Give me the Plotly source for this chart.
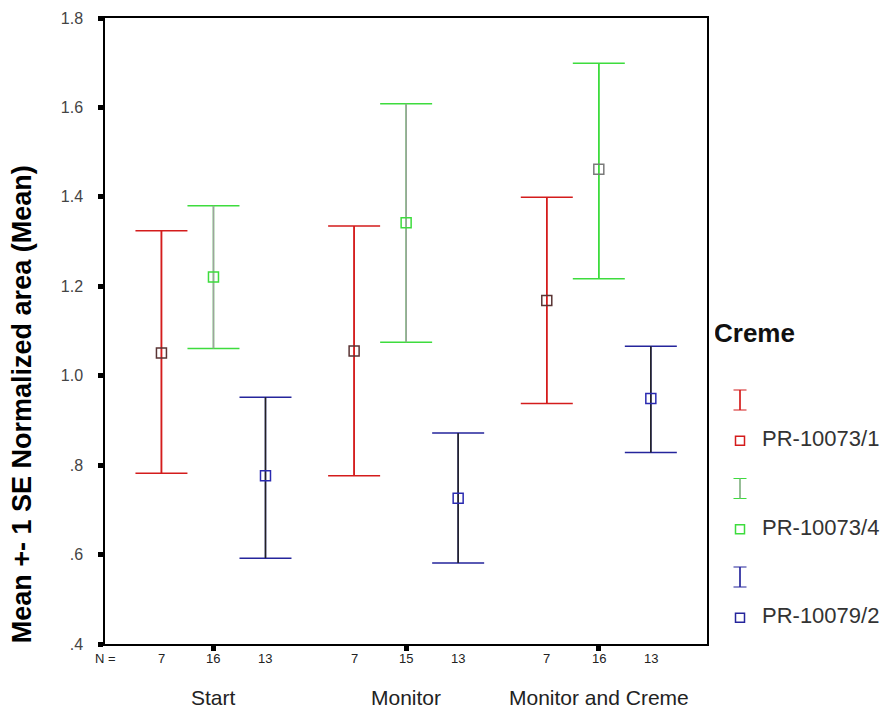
import plotly.graph_objects as go

# ---------------- data ----------------
categories = ["Start", "Monitor", "Monitor and Creme"]
series_names = ["PR-10073/1", "PR-10073/4", "PR-10079/2"]

n_10073_1 = [7, 7, 7]
n_10073_4 = [16, 15, 16]
n_10079_2 = [13, 13, 13]

mean_10073_1 = [1.051, 1.055, 1.168]
upper_10073_1 = [1.324, 1.335, 1.399]
lower_10073_1 = [0.782, 0.776, 0.938]

mean_10073_4 = [1.221, 1.342, 1.462]
upper_10073_4 = [1.380, 1.608, 1.699]
lower_10073_4 = [1.061, 1.075, 1.217]

mean_10079_2 = [0.776, 0.726, 0.949]
upper_10079_2 = [0.952, 0.872, 1.066]
lower_10079_2 = [0.592, 0.581, 0.828]

y_tick_vals = [0.4, 0.6, 0.8, 1.0, 1.2, 1.4, 1.6, 1.8]
y_tick_text = [".4", ".6", ".8", "1.0", "1.2", "1.4", "1.6", "1.8"]

# ---------------- styles ----------------
FONT = "Liberation Sans, Arial, sans-serif"
RED, GREEN, BLUE = "#d41c1c", "#3ddc3d", "#25259c"
GREY, DARK = "#a0a0a0", "#222222"

series = [
    dict(name=series_names[0], n=n_10073_1, mean=mean_10073_1, up=upper_10073_1, lo=lower_10073_1,
         cap=RED, stems=[RED, RED, RED], marks=["#5a3434"] * 3, legend_mark=RED, legend_stem=RED),
    dict(name=series_names[1], n=n_10073_4, mean=mean_10073_4, up=upper_10073_4, lo=lower_10073_4,
         cap=GREEN, stems=[GREY, GREY, GREEN], marks=[GREEN, GREEN, "#7a7a7a"], legend_mark=GREEN, legend_stem=GREY),
    dict(name=series_names[2], n=n_10079_2, mean=mean_10079_2, up=upper_10079_2, lo=lower_10079_2,
         cap=BLUE, stems=[DARK, DARK, DARK], marks=["#2a2ab0"] * 3, legend_mark=BLUE, legend_stem=BLUE),
]
offsets = [-0.27, 0.0, 0.27]
cat_pos = [i + 1 for i in range(len(categories))]

fig = go.Figure()

for s, off in zip(series, offsets):
    xs = [c + off for c in cat_pos]
    plus = [u - m for u, m in zip(s["up"], s["mean"])]
    minus = [m - l for m, l in zip(s["mean"], s["lo"])]
    # caps (and stems in cap colour, overdrawn below)
    fig.add_trace(go.Scatter(
        x=xs, y=s["mean"], mode="markers", marker=dict(size=1, opacity=0),
        error_y=dict(type="data", array=plus, arrayminus=minus, color=s["cap"],
                     width=26, thickness=1.5),
        showlegend=False, hoverinfo="skip"))
    # stems in their own colours
    for i in range(len(xs)):
        fig.add_trace(go.Scatter(
            x=[xs[i]], y=[s["mean"][i]], mode="markers", marker=dict(size=1, opacity=0),
            error_y=dict(type="data", array=[plus[i]], arrayminus=[minus[i]],
                         color=s["stems"][i], width=0, thickness=1.5),
            showlegend=False, hoverinfo="skip"))
    # mean markers
    fig.add_trace(go.Scatter(
        x=xs, y=s["mean"], mode="markers", name=s["name"],
        marker=dict(symbol="square-open", size=10, color=s["marks"], line=dict(width=1.5)),
        showlegend=False))

# ---------------- custom legend on auxiliary axes ----------------
for g, s in enumerate(series):
    fig.add_trace(go.Scatter(
        x=[0], y=[g], mode="markers", marker=dict(size=1, opacity=0),
        error_y=dict(type="constant", value=0.113, color=s["cap"], width=6.5, thickness=1.2),
        xaxis="x2", yaxis="y2", showlegend=False, hoverinfo="skip"))
    fig.add_trace(go.Scatter(
        x=[0], y=[g], mode="markers", marker=dict(size=1, opacity=0),
        error_y=dict(type="constant", value=0.113, color=s["legend_stem"], width=0, thickness=1.2),
        xaxis="x2", yaxis="y2", showlegend=False, hoverinfo="skip"))
    fig.add_trace(go.Scatter(
        x=[0], y=[g + 0.46], mode="markers",
        marker=dict(symbol="square-open", size=9, color=s["legend_mark"], line=dict(width=1.5)),
        xaxis="x2", yaxis="y2", showlegend=False, hoverinfo="skip"))
    fig.add_trace(go.Scatter(
        x=[22], y=[g + 0.46], mode="text", text=[s["name"]], textposition="middle right",
        textfont=dict(family=FONT, size=22, color="#333333"),
        xaxis="x2", yaxis="y2", showlegend=False, hoverinfo="skip"))
fig.add_trace(go.Scatter(
    x=[-26], y=[-0.73], mode="text", text=["<b>Creme</b>"], textposition="middle right",
    textfont=dict(family=FONT, size=26, color="#111111"),
    xaxis="x2", yaxis="y2", showlegend=False, hoverinfo="skip"))

# ---------------- annotations: N row, categories, title ----------------
ann = []
ann.append(dict(x=0.437, y=-0.0224, xref="x", yref="paper", text="N =", showarrow=False,
                font=dict(family=FONT, size=13, color="#222222"), xanchor="center", yanchor="middle"))
for s, off in zip(series, offsets):
    for c, n in zip(cat_pos, s["n"]):
        ann.append(dict(x=c + off, y=-0.0224, xref="x", yref="paper", text=str(n), showarrow=False,
                        font=dict(family=FONT, size=13, color="#222222"),
                        xanchor="center", yanchor="middle"))
for c, name in zip(cat_pos, categories):
    ann.append(dict(x=c, y=-0.0847, xref="x", yref="paper", text=name, showarrow=False,
                    font=dict(family=FONT, size=21, color="#222222"),
                    xanchor="center", yanchor="middle"))
ann.append(dict(x=-0.106, y=0.383, xref="paper", yref="paper",
                text="<b>Mean +- 1 SE Normalized area (Mean)</b>", textangle=-90, showarrow=False,
                font=dict(family=FONT, size=27, color="#000000"),
                xanchor="center", yanchor="middle"))

main_dom = 601.7 / 783.0
fig.update_layout(
    width=888, height=714, autosize=False,
    margin=dict(l=105, r=0, t=18, b=70),
    paper_bgcolor="white", plot_bgcolor="white",
    font=dict(family=FONT),
    showlegend=False,
    annotations=ann,
    xaxis=dict(domain=[0, main_dom], range=[0.437, 3.56], tickvals=cat_pos, showticklabels=False,
               ticks="outside", ticklen=5, tickwidth=5, tickcolor="black",
               showline=True, linecolor="black", linewidth=1.5, mirror=True,
               showgrid=False, zeroline=False),
    yaxis=dict(range=[0.4, 1.8], tickvals=y_tick_vals, ticktext=y_tick_text,
               ticks="outside", ticklen=5, tickwidth=5, tickcolor="black",
               tickfont=dict(family=FONT, size=16, color="#444444"), ticklabelstandoff=12,
               showline=True, linecolor="black", linewidth=1.5, mirror=True,
               showgrid=False, zeroline=False),
    xaxis2=dict(domain=[(715 - 105) / 783.0, 1], range=[-25, 148], anchor="y2", visible=False),
    yaxis2=dict(domain=[0, 1], range=[2.757, -4.316], anchor="x2", visible=False),
)

fig.write_html("out.html")
